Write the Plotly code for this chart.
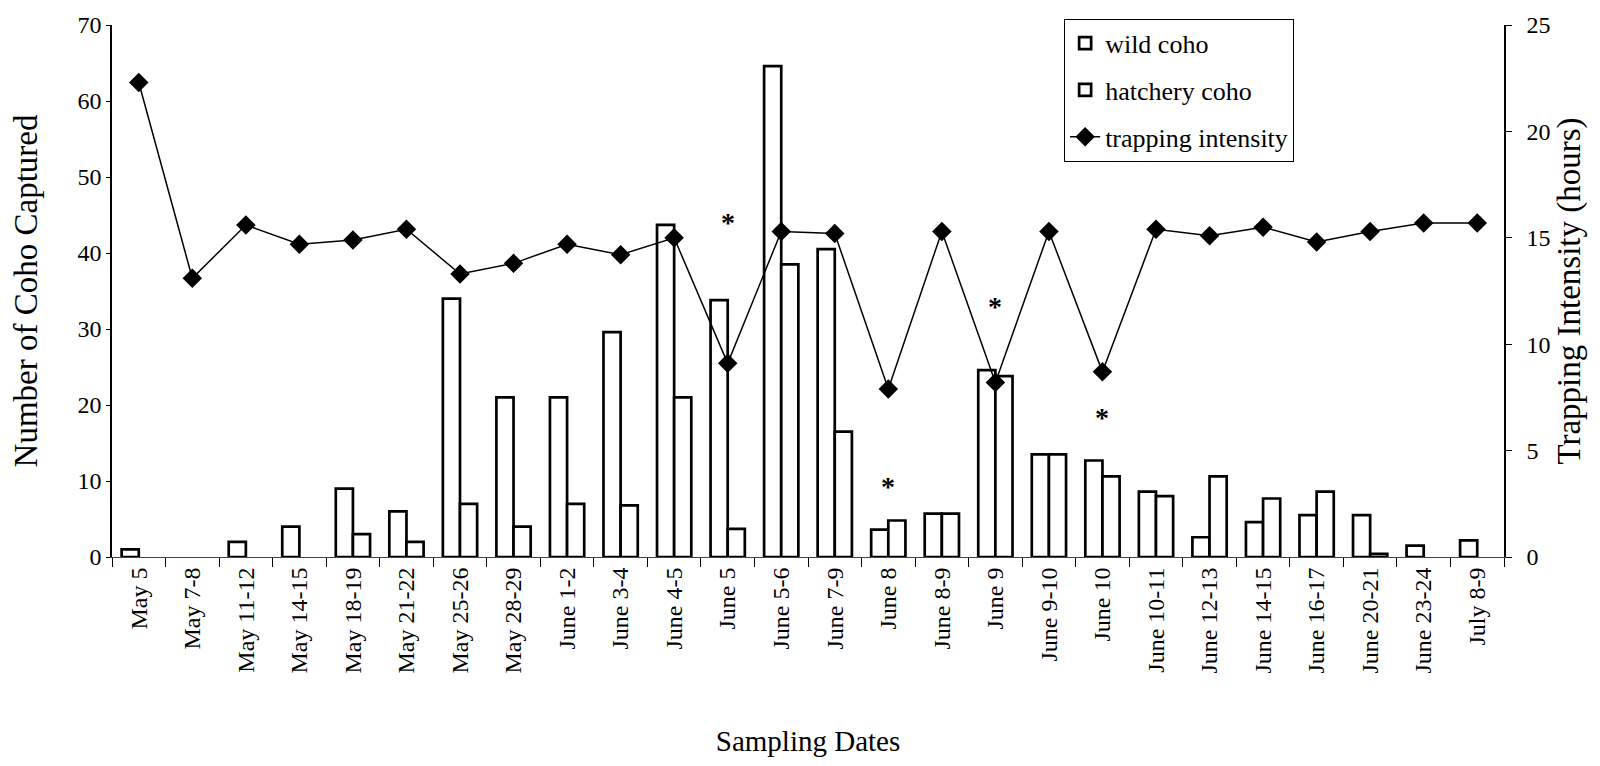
import plotly.graph_objects as go

dates = ["May 5", "May 7-8", "May 11-12", "May 14-15", "May 18-19", "May 21-22",
         "May 25-26", "May 28-29", "June 1-2", "June 3-4", "June 4-5", "June 5",
         "June 5-6", "June 7-9", "June 8", "June 8-9", "June 9", "June 9-10",
         "June 10", "June 10-11", "June 12-13", "June 14-15", "June 16-17",
         "June 20-21", "June 23-24", "July 8-9"]

wild_coho = [1, 0, 2, 4, 9, 6, 34, 21, 21, 29.6, 43.7, 33.8, 64.6, 40.5, 3.6, 5.7,
             24.6, 13.5, 12.7, 8.6, 2.6, 4.6, 5.5, 5.5, 1.5, 2.2]
hatchery_coho = [0, 0, 0, 0, 3, 2, 7, 4, 7, 6.8, 21, 3.7, 38.5, 16.5, 4.8, 5.7,
                 23.8, 13.5, 10.6, 8.0, 10.6, 7.7, 8.6, 0.4, 0, 0]
trapping_hours = [22.3, 13.1, 15.6, 14.7, 14.9, 15.4, 13.3, 13.8, 14.7, 14.2, 15.0,
                  9.1, 15.3, 15.2, 7.9, 15.3, 8.2, 15.3, 8.7, 15.4, 15.1, 15.5,
                  14.8, 15.3, 15.7, 15.7]

asterisk_dates = ["June 5", "June 8", "June 9", "June 10"]
asterisk_y = [44.0, 9.3, 33.0, 18.4]

FONT = "Liberation Serif, Times New Roman, serif"


def hide_zero(values):
    return [v if v else None for v in values]


bar_style = dict(color="white", line=dict(color="black", width=2.7))

fig = go.Figure()
fig.add_trace(go.Bar(x=dates, y=hide_zero(wild_coho), name="wild coho",
                     marker=bar_style, legendgroup="a"))
fig.add_trace(go.Bar(x=dates, y=hide_zero(hatchery_coho), name="hatchery coho",
                     marker=bar_style, legendgroup="b"))
fig.add_trace(go.Scatter(x=dates, y=trapping_hours, name="trapping intensity",
                         mode="lines+markers", yaxis="y2",
                         line=dict(color="black", width=1.5),
                         marker=dict(symbol="diamond", size=15, color="black"),
                         legendgroup="c"))

for d, yv in zip(asterisk_dates, asterisk_y):
    fig.add_annotation(x=d, y=yv, xref="x", yref="y", text="<b>*</b>", showarrow=False,
                       font=dict(family=FONT, size=28, color="black"))

fig.update_layout(
    width=1600, height=766,
    paper_bgcolor="white", plot_bgcolor="white",
    margin=dict(l=104, r=104, t=16, b=217),
    font=dict(family=FONT, size=24, color="black"),
    barmode="group", bargap=0.36, bargroupgap=0,
    showlegend=True,
    legend=dict(x=0.684, y=1.01, xanchor="left", yanchor="top",
                bordercolor="black", borderwidth=1, bgcolor="white",
                font=dict(family=FONT, size=26), tracegroupgap=10,
                traceorder="grouped", itemwidth=30),
    xaxis=dict(title=dict(text="Sampling Dates", standoff=58,
                          font=dict(family=FONT, size=29)),
               range=[-0.5, 25.5], automargin=False,
               tickangle=-90, showline=True, linecolor="#444", linewidth=1,
               ticks="outside", ticklen=9, tickcolor="black", tickson="boundaries",
               showgrid=False, tickfont=dict(family=FONT, size=24)),
    yaxis=dict(title=dict(text="Number of Coho Captured", standoff=35,
                          font=dict(family=FONT, size=33)),
               range=[0, 70], dtick=10, automargin=False,
               showline=True, linecolor="black", linewidth=1.5,
               ticks="outside", ticklen=4, tickcolor="black", showgrid=False,
               zeroline=False, tickfont=dict(family=FONT, size=24)),
    yaxis2=dict(title=dict(text="Trapping Intensity (hours)", standoff=2,
                           font=dict(family=FONT, size=33)),
                range=[0, 25], dtick=5, overlaying="y", side="right", automargin=False,
                showline=True, linecolor="black", linewidth=1.5,
                ticks="outside", ticklen=6, tickcolor="black", showgrid=False,
                ticklabelstandoff=10,
                zeroline=False, tickfont=dict(family=FONT, size=24)),
)

fig.write_html("out.html")
